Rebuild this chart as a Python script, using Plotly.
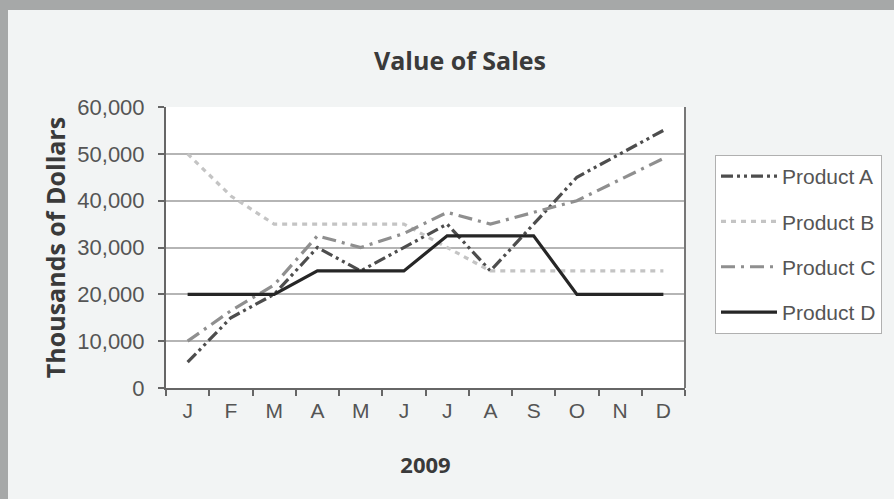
import plotly.graph_objects as go

months = ["J", "F", "M", "A", "M", "J", "J", "A", "S", "O", "N", "D"]
cat_ids = ["Jan", "Feb", "Mar", "Apr", "May", "Jun", "Jul", "Aug", "Sep", "Oct", "Nov", "Dec"]

product_a = [5500, 15000, 20000, 30000, 25000, 30000, 35000, 25000, 35000, 45000, 50000, 55000]
product_b = [50000, 41000, 35000, 35000, 35000, 35000, 30000, 25000, 25000, 25000, 25000, 25000]
product_c = [10000, 16500, 22000, 32500, 30000, 33000, 37500, 35000, 37500, 40000, 44500, 49000]
product_d = [20000, 20000, 20000, 25000, 25000, 25000, 32500, 32500, 32500, 20000, 20000, 20000]

y_ticks = [0, 10000, 20000, 30000, 40000, 50000, 60000]
y_tick_text = ["0", "10,000", "20,000", "30,000", "40,000", "50,000", "60,000"]

series = [
    ("Product A", product_a, "#4d4d4d", "12px,4px,3px,4px,3px,4px"),
    ("Product B", product_b, "#c4c4c4", "5px,5px"),
    ("Product C", product_c, "#8f8f8f", "14px,6px,3px,6px"),
    ("Product D", product_d, "#262626", "solid"),
]

fig = go.Figure()
for i, (name, vals, color, dash) in enumerate(series):
    fig.add_trace(go.Scatter(
        x=cat_ids, y=vals, name=name, mode="lines",
        line=dict(color=color, width=3.2, dash=dash),
        legendgroup=f"g{i}",
    ))

W, H = 894, 499
L, R, T, B = 166, 685, 107, 388

fig.update_layout(
    width=W, height=H,
    margin=dict(l=L, r=W - R, t=T, b=H - B, pad=0),
    paper_bgcolor="#f2f4f4",
    plot_bgcolor="#ffffff",
    font=dict(family="Liberation Sans, Arial, sans-serif", color="#555555", size=18),
    title=dict(
        text="<b>Value of Sales</b>",
        x=460 / W, xref="container", xanchor="center",
        y=1 - 61 / H, yref="container", yanchor="middle",
        font=dict(family="Open Sans, sans-serif", size=25, color="#3a3a3a"),
    ),
    xaxis=dict(
        type="category",
        tickmode="array", tickvals=cat_ids, ticktext=months,
        range=[-0.5, 11.5],
        tickson="boundaries",
        ticks="outside", ticklen=6, tickwidth=2, tickcolor="#666666",
        showline=True, linecolor="#666666", linewidth=2, mirror=False,
        showgrid=False,
        ticklabelstandoff=3,
        tickfont=dict(size=21, color="#555555"),
        title=dict(text="<b>2009</b>", standoff=36,
                   font=dict(family="Open Sans, sans-serif", size=22, color="#3a3a3a")),
    ),
    yaxis=dict(
        range=[0, 60000],
        tickmode="array", tickvals=y_ticks, ticktext=y_tick_text,
        ticks="outside", ticklen=6, tickwidth=2, tickcolor="#666666",
        showline=True, linecolor="#666666", linewidth=2,
        showgrid=True, gridcolor="#b5b5b5", gridwidth=2,
        zeroline=False,
        ticklabelstandoff=9,
        tickfont=dict(size=22, color="#555555"),
        title=dict(text="<b>Thousands of Dollars</b>", standoff=5,
                   font=dict(family="Open Sans, sans-serif", size=25, color="#3a3a3a")),
    ),
    legend=dict(
        x=(715 - L) / (R - L), xanchor="left",
        y=(B - 155) / (B - T), yanchor="top",
        bgcolor="#ffffff", bordercolor="#b0b0b0", borderwidth=1,
        font=dict(size=21, color="#555555"),
        tracegroupgap=15,
        itemwidth=56,
    ),
    shapes=[
        dict(type="line", xref="paper", yref="paper",
             x0=1, x1=1, y0=0, y1=1,
             line=dict(color="#777777", width=2)),
        dict(type="rect", xref="paper", yref="paper",
             x0=(0 - L) / (R - L), x1=(8 - L) / (R - L),
             y0=(B - H) / (B - T), y1=B / (B - T),
             fillcolor="#a6a8a8", line=dict(width=0), layer="below"),
        dict(type="rect", xref="paper", yref="paper",
             x0=(0 - L) / (R - L), x1=(W - L) / (R - L),
             y0=(B - 10) / (B - T), y1=B / (B - T),
             fillcolor="#a6a8a8", line=dict(width=0), layer="below"),
    ],
)

fig.write_html(
    "out.html",
    config={"displayModeBar": False},
    post_script="document.body.style.margin='0';document.body.style.overflow='hidden';",
)
